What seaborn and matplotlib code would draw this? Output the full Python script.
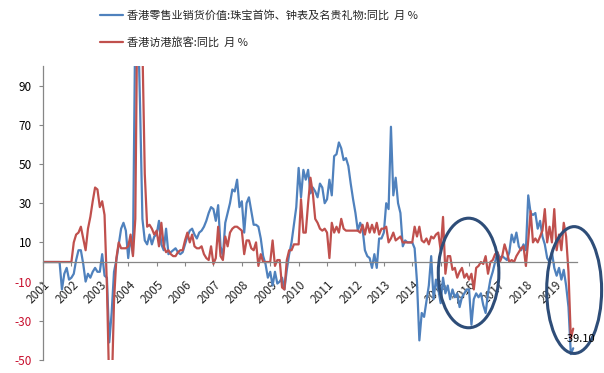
import numpy as np
import pandas as pd
import matplotlib
matplotlib.use("Agg")
import matplotlib.pyplot as plt
import seaborn as sns
from matplotlib.patches import Ellipse
from matplotlib.transforms import ScaledTranslation

# ---------------- data (monthly, Jan 2001 - Sep 2019) ----------------
years = [str(y) for y in range(2001, 2020)]

name_jewelry = "香港零售业销货价值:珠宝首饰、钟表及名贵礼物:同比  月 %"
name_visitors = "香港访港旅客:同比  月 %"

jewelry = [
    0, 0, 0, 0, 0, 0, 0, 0, -14, -6, -3, -9,            # 2001
    -8, -6, 1, 6, 6, -1, -10, -6, -8, -5, -3, -5,       # 2002
    -5, 4, -7, -8, -41, -26, -5, 1, 9, 17, 20, 16,      # 2003
    2, 13, 4, 125, 130, 80, 22, 11, 9, 14, 9, 13,       # 2004
    14, 21, 9, 6, 17, 4, 5, 6, 7, 5, 4, 5,              # 2005
    9, 13, 16, 17, 14, 12, 15, 16, 18, 21, 25, 28,      # 2006
    27, 21, 29, 8, 3, 20, 25, 30, 37, 36, 42, 28,       # 2007
    31, 15, 30, 33, 26, 19, 19, 18, 12, 3, -1, -8,      # 2008
    -5, -12, -5, -11, -10, -8, -14, -4, 4, 10, 19, 28,  # 2009
    48, 33, 47, 42, 47, 35, 38, 36, 33, 40, 38, 30,     # 2010
    32, 42, 34, 54, 55, 61, 58, 52, 53, 49, 40, 32,     # 2011
    25, 16, 20, 17, 6, 3, 2, -3, 4, -3, 12, 12,         # 2012
    15, 30, 27, 69, 34, 43, 30, 25, 8, 11, 10, 10,      # 2013
    10, 7, -10, -40, -26, -28, -20, -12, 3, -19, -9, -14,   # 2014
    -21, -8, -16, -12, -19, -14, -18, -16, -23, -18, -16, -14,  # 2015
    -14, -32, -19, -16, -18, -16, -22, -26, -16, -9, -5, 0,     # 2016
    5, 2, 3, 2, 1, 5, 14, 10, 15, 8, 6, 9,              # 2017
    6, 34, 25, 24, 25, 17, 21, 13, 9, 2, 0, 5,          # 2018
    -3, -7, -3, -9, -4, -12, -23, -47, -44,             # 2019
]

visitors = [
    0, 0, 0, 0, 0, 0, 0, 0, 0, 0, 0, 0,                 # 2001
    0, 10, 14, 15, 18, 12, 6, 17, 23, 31, 38, 37,       # 2002
    28, 31, 24, -12, -65, -68, -20, 2, 10, 7, 7, 7,     # 2003
    8, 14, 3, 22, 150, 140, 110, 45, 18, 19, 17, 14,    # 2004
    16, 8, 20, 8, 5, 6, 4, 3, 3, 5, 6, 6,               # 2005
    11, 15, 10, 14, 8, 7, 7, 8, 4, 2, 1, 8,             # 2006
    -1, 2, 18, 3, 1, 13, 8, 15, 17, 18, 18, 17,         # 2007
    16, 4, 11, 11, 7, 6, 10, -2, 4, 0, 0, 0,            # 2008
    0, 11, -2, 1, 1, -13, -14, 1, 6, 6, 9, 9,           # 2009
    9, 32, 15, 15, 30, 43, 35, 22, 20, 17, 16, 17,      # 2010
    15, 2, 20, 15, 18, 15, 22, 17, 16, 16, 16, 16,      # 2011
    16, 16, 15, 19, 14, 20, 15, 19, 15, 20, 14, 17,     # 2012
    17, 18, 10, 12, 15, 11, 12, 13, 10, 10, 10, 10,     # 2013
    10, 18, 13, 18, 11, 10, 12, 9, 13, 12, 14, 15,      # 2014
    6, 23, -6, 3, 3, -4, -3, -8, -5, -3, -8, -6,        # 2015
    -9, -6, -14, -3, -2, 0, -1, 3, -6, 0, 1, 4,         # 2016
    5, 0, 3, 9, 5, 0, 1, 0, 3, 5, 7, 8,                 # 2017
    -2, 11, 26, 10, 12, 10, 13, 16, 27, 10, 18, 10,     # 2018
    27, 6, 14, 6, 20, 13, -5, -39.1, -34,               # 2019
]

last_label = "-39.10"
last_label_month = 223
last_label_value = -39.1

# ---------------- style ----------------
sns.set_style("white")
plt.rcParams["font.family"] = ["Noto Sans CJK SC", "DejaVu Sans"]
plt.rcParams["axes.unicode_minus"] = False

blue = "#4F81BD"
red = "#C0504D"
grey = "#868686"
neg_red = "#C8102E"
ring = "#2E4D78"

n = len(jewelry)
months = np.arange(n)
df = pd.DataFrame({
    "month": np.concatenate([months, months]),
    "value": jewelry + visitors,
    "series": [name_jewelry] * n + [name_visitors] * n,
})

fig = plt.figure(figsize=(6.04, 3.73), dpi=100)
ax = fig.add_axes([43 / 604, 13 / 373, 534 / 604, 294 / 373])

sns.lineplot(data=df, x="month", y="value", hue="series",
             hue_order=[name_jewelry, name_visitors], palette=[blue, red],
             linewidth=1.6, errorbar=None, ax=ax)

for s in ["top", "right"]:
    ax.spines[s].set_visible(False)
ax.spines["bottom"].set_position(("data", 0))
for s in ["left", "bottom"]:
    ax.spines[s].set_color(grey)
    ax.spines[s].set_linewidth(0.9)

ax.tick_params(axis="both", bottom=True, left=True, direction="out",
               length=3, width=0.8, color=grey, labelsize=8.5)
ax.tick_params(axis="x", pad=12)
ax.tick_params(axis="y", pad=5)

ax.set_xlim(0, 225.6)
ax.set_ylim(-50, 100)
yt = list(range(-50, 91, 20))
ax.set_yticks(yt)
ax.set_xticks(list(range(0, 12 * len(years), 12)))
ax.set_xticklabels(years)
ax.set_xlabel("")
ax.set_ylabel("")

for lab in ax.get_xticklabels():
    lab.set_rotation(45)
    lab.set_rotation_mode("anchor")
    lab.set_ha("right")
    lab.set_va("center")
    lab.set_transform(lab.get_transform() +
                      ScaledTranslation(5 / 100, 0, fig.dpi_scale_trans))

for lab, v in zip(ax.get_yticklabels(), yt):
    lab.set_color(neg_red if v < 0 else "black")

# highlight rings
ax.add_patch(Ellipse((179.8, -5.6), 25.6, 55.9, fill=False,
                     edgecolor=ring, lw=2.2, clip_on=False, zorder=5))
ax.add_patch(Ellipse((224.4, -14.3), 23.2, 64.7, fill=False,
                     edgecolor=ring, lw=2.2, clip_on=False, zorder=5))

ax.annotate(last_label, xy=(last_label_month, last_label_value),
            xytext=(-5, 0), textcoords="offset points",
            ha="left", va="center", fontsize=8, color="black", zorder=6)

sns.move_legend(ax, "upper left", bbox_to_anchor=(100 / 604, 1 - 10 / 373),
                bbox_transform=fig.transFigure, frameon=False, title=None,
                fontsize=8, handlelength=2.1, handletextpad=0.3,
                labelspacing=1.5, borderpad=0, borderaxespad=0)

fig.savefig("out.png", dpi=100)
